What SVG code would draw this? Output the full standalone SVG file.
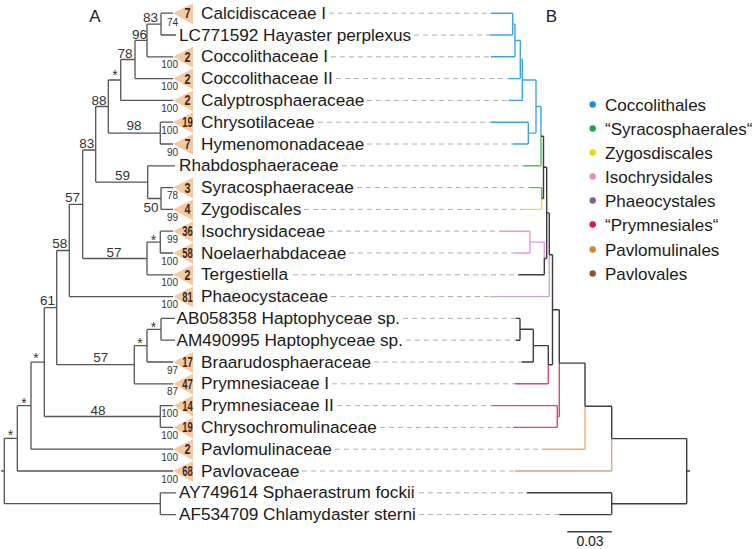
<svg xmlns="http://www.w3.org/2000/svg" width="755" height="549" viewBox="0 0 755 549">
<style>
text{font-family:"Liberation Sans",Arial,sans-serif}
.lbl{font-size:17.2px;fill:#1a1a1a}
.bs{font-size:13.5px;fill:#333;text-anchor:middle}
.st{font-size:14px;fill:#333;text-anchor:middle}
.sm{font-size:10px;fill:#333;text-anchor:end}
.tri{fill:#f5c9a3}
.cnt{font-size:14px;font-weight:bold;fill:#3b2a1e}
.br{stroke:#555;stroke-width:1.3;fill:none}
.dash{stroke:#b0b0b0;stroke-width:1;stroke-dasharray:5 4;fill:none}
.k{stroke:#3d3d3d;stroke-width:1.4;fill:none}
.bl{stroke:#3ea5e0;stroke-width:1.4;fill:none}
.gr{stroke:#4fbf5f;stroke-width:1.4;fill:none}
.ye{stroke:#e6df3a;stroke-width:1.4;fill:none}
.pk{stroke:#ee98d0;stroke-width:1.4;fill:none}
.pu{stroke:#c8a8d6;stroke-width:1.4;fill:none}
.rd{stroke:#e5436a;stroke-width:1.4;fill:none}
.or{stroke:#f0b070;stroke-width:1.4;fill:none}
.tn{stroke:#d4a88a;stroke-width:1.4;fill:none}
.leg{font-size:17px;fill:#1a1a1a}
</style>

<text x="95" y="21.7" font-size="17" text-anchor="middle" fill="#222">A</text>
<text x="551.3" y="21.7" font-size="17" text-anchor="middle" fill="#222">B</text>

<g id="connectors">
<g id="tree-a" class="br">
<path d="M161,13.2V35M161,13.2H173M161,35H176M147,24.1V56.8M147,24.1H161M147,56.8H173M135,40.45V78.6M135,40.45H147M135,78.6H173M120.7,59.5V100.4M120.7,59.5H135M120.7,100.4H173M108.3,80V133.1M108.3,80H120.7M160.3,122.2V144M160.3,122.2H173M160.3,144H173M108.3,133.1H160.3M95.7,106.5V182.1M95.7,106.5H108.3"/>
<path d="M147.7,165.8V198.5M147.7,165.8H175M161,187.6V209.4M161,187.6H173M161,209.4H173M147.7,198.5H161M95.7,182.1H147.7M82.7,150V258.5M82.7,150H95.7"/>
<path d="M160.3,231.2V253M160.3,231.2H173M160.3,253H173M147,242.1V274.8M147,242.1H160.3M147,274.8H173M82.7,258.5H147M69.3,204.3V296.6M69.3,204.3H82.7M69.3,296.6H173M56.7,250.5V364.7M56.7,250.5H69.3"/>
<path d="M161,318.4V340.2M161,318.4H175M161,340.2H175M147,329.3V362M147,329.3H161M147,362H173M134.3,345.6V383.8M134.3,345.6H147M134.3,383.8H173M56.7,364.7H134.3M44.3,307.7V416.5M44.3,307.7H56.7"/>
<path d="M160.3,405.6V427.4M160.3,405.6H173M160.3,427.4H173M44.3,416.5H160.3M31,362.1V449.2M31,362.1H44.3M31,449.2H173M17.3,405.7V471M17.3,405.7H31M17.3,471H173M4.3,438.3V503.7M4.3,438.3H17.3M160.3,492.8V514.6M160.3,492.8H176M160.3,514.6H176M4.3,503.7H160.3M1,471H4.3"/>
</g>
<g id="dashes" class="dash">
<path d="M329,13.2H490.7M414,35H490M331,56.8H490.7M336,78.6H508.3M367,100.4H508.3M318,122.2H490.7M367,144H512.7M342,165.8H523.3M357,187.6H530M304,209.4H523.3M328,231.2H500M349,253H515M293,274.8H518.3M331,296.6H490M403,318.4H516M406,340.2H516M374,362H521.7M332,383.8H515M337,405.6H491.7M380,427.4H513.3M335,449.2H541.7M302,471H515M419,492.8H526.7M419,514.6H559.3"/>
</g>
<g id="tree-b">
<path class="bl" d="M490.7,13.2H512.7M490,35H512.7M512.7,13.2V35M512.7,24.1H515M490.7,56.8H515M515,24.1V56.8M515,40.45H520.3M508.3,78.6H520.3M520.3,40.45V78.6M520.3,59.5H522.3M508.3,100.4H522.3M522.3,59.5V100.4M522.3,80H536M490.7,122.2H528.3M512.7,144H528.3M528.3,122.2V144M528.3,133.1H536M536,80V133.1M536,106.5H541M541,106.5V136.2"/>
<path class="gr" d="M541,136.2V165.8M523.3,165.8H541M530,187.6H541.7M541.7,187.6V198.5"/>
<path class="ye" d="M523.3,209.4H541.7M541.7,198.5V209.4"/>
<path class="k" d="M541,136.2H543.5M541.7,198.5H543.5M543.5,136.2V198.5M543.5,167.3H546.7"/>
<path class="pk" d="M500,231.2H530M515,253H530M530,231.2V253M530,242.1H544.3M544.3,242.1V258.5"/>
<path class="k" d="M518.3,274.8H544.3M544.3,258.5V274.8M544.3,258.5H546.7M546.7,167.3V258.5M546.7,212.9H549.3M549.3,212.9V254.7"/>
<path class="pu" d="M490,296.6H549.3M549.3,254.7V296.6"/>
<path class="k" d="M549.3,254.7H552.5M552.5,254.7V364.7M516,318.4H520M516,340.2H520M520,318.4V340.2M520,329.3H533.3M521.7,362H533.3M533.3,329.3V362M533.3,345.6H548.3M548.3,345.6V364.7"/>
<path class="rd" d="M515,383.8H548.3M548.3,364.7V383.8"/>
<path class="k" d="M548.3,364.7H552.5M552.5,309.7H559.3M559.3,309.7V363.1"/>
<path class="rd" d="M491.7,405.6H557.3M513.3,427.4H557.3M557.3,405.6V427.4M557.3,416.5H559.3M559.3,363.1V416.5"/>
<path class="k" d="M559.3,363.1H585M585,363.1V406.2"/>
<path class="or" d="M541.7,449.2H585M585,406.2V449.2"/>
<path class="k" d="M585,406.2H611.7M611.7,406.2V438.6"/>
<path class="tn" d="M515,471H611.7M611.7,438.6V471"/>
<path class="k" d="M611.7,438.6H686.7M686.7,438.6V503.7M526.7,492.8H611.7M559.3,514.6H611.7M611.7,492.8V514.6M611.7,503.7H686.7M686.7,471H690"/>
</g>
</g>

<g id="support">
<text class="bs" x="150.5" y="22">83</text>
<text class="bs" x="139.5" y="38.5">96</text>
<text class="bs" x="125" y="57.5">78</text>
<text class="st" x="115" y="80">*</text>
<text class="bs" x="99" y="105">88</text>
<text class="bs" x="134" y="130">98</text>
<text class="bs" x="86.7" y="148">83</text>
<text class="bs" x="122.5" y="180">59</text>
<text class="bs" x="151" y="211.5">50</text>
<text class="bs" x="72.5" y="201.5">57</text>
<text class="bs" x="114" y="256.5">57</text>
<text class="st" x="153.5" y="245">*</text>
<text class="bs" x="59.7" y="248">58</text>
<text class="bs" x="47.5" y="305">61</text>
<text class="st" x="153.5" y="332">*</text>
<text class="st" x="140" y="348">*</text>
<text class="bs" x="100.8" y="361.7">57</text>
<text class="bs" x="98" y="415">48</text>
<text class="st" x="36" y="363">*</text>
<text class="st" x="24" y="408">*</text>
<text class="st" x="10.5" y="440">*</text>
<text class="sm" x="178" y="26.2">74</text>
<text class="sm" x="178" y="68.3">100</text>
<text class="sm" x="178" y="90.1">100</text>
<text class="sm" x="178" y="111.9">100</text>
<text class="sm" x="178" y="133.7">100</text>
<text class="sm" x="178" y="155.5">90</text>
<text class="sm" x="178" y="199.1">78</text>
<text class="sm" x="178" y="220.9">99</text>
<text class="sm" x="178" y="242.7">99</text>
<text class="sm" x="178" y="264.5">100</text>
<text class="sm" x="178" y="286.3">100</text>
<text class="sm" x="178" y="308.1">100</text>
<text class="sm" x="178" y="373.5">97</text>
<text class="sm" x="178" y="395.3">87</text>
<text class="sm" x="178" y="417.1">100</text>
<text class="sm" x="178" y="438.9">100</text>
<text class="sm" x="178" y="460.7">100</text>
<text class="sm" x="178" y="482.5">100</text>
</g>

<g id="leaf-calcidiscaceae-i"><polygon class="tri" points="173,13.2 193,3.2 193,24.2"/><text class="cnt" x="184.5" y="18.2" textLength="6" lengthAdjust="spacingAndGlyphs">7</text><text class="lbl" x="201" y="18.7">Calcidiscaceae I</text></g>
<g id="leaf-lc771592"><text class="lbl" x="179" y="40.5">LC771592 Hayaster perplexus</text></g>
<g id="leaf-coccolithaceae-i"><polygon class="tri" points="173,56.8 193,46.8 193,67.8"/><text class="cnt" x="184.5" y="61.8" textLength="6" lengthAdjust="spacingAndGlyphs">2</text><text class="lbl" x="201" y="62.3">Coccolithaceae I</text></g>
<g id="leaf-coccolithaceae-ii"><polygon class="tri" points="173,78.6 193,68.6 193,89.6"/><text class="cnt" x="184.5" y="83.6" textLength="6" lengthAdjust="spacingAndGlyphs">2</text><text class="lbl" x="201" y="84.1">Coccolithaceae II</text></g>
<g id="leaf-calyptrosphaeraceae"><polygon class="tri" points="173,100.4 193,90.4 193,111.4"/><text class="cnt" x="184.5" y="105.4" textLength="6" lengthAdjust="spacingAndGlyphs">2</text><text class="lbl" x="201" y="105.9">Calyptrosphaeraceae</text></g>
<g id="leaf-chrysotilaceae"><polygon class="tri" points="173,122.2 193,112.2 193,133.2"/><text class="cnt" x="182.2" y="127.2" textLength="10.6" lengthAdjust="spacingAndGlyphs">19</text><text class="lbl" x="201" y="127.7">Chrysotilaceae</text></g>
<g id="leaf-hymenomonadaceae"><polygon class="tri" points="173,144 193,134 193,155"/><text class="cnt" x="184.5" y="149" textLength="6" lengthAdjust="spacingAndGlyphs">7</text><text class="lbl" x="201" y="149.5">Hymenomonadaceae</text></g>
<g id="leaf-rhabdosphaeraceae"><text class="lbl" x="179" y="171.3">Rhabdosphaeraceae</text></g>
<g id="leaf-syracosphaeraceae"><polygon class="tri" points="173,187.6 193,177.6 193,198.6"/><text class="cnt" x="184.5" y="192.6" textLength="6" lengthAdjust="spacingAndGlyphs">3</text><text class="lbl" x="201" y="193.1">Syracosphaeraceae</text></g>
<g id="leaf-zygodiscales"><polygon class="tri" points="173,209.4 193,199.4 193,220.4"/><text class="cnt" x="184.5" y="214.4" textLength="6" lengthAdjust="spacingAndGlyphs">4</text><text class="lbl" x="201" y="214.9">Zygodiscales</text></g>
<g id="leaf-isochrysidaceae"><polygon class="tri" points="173,231.2 193,221.2 193,242.2"/><text class="cnt" x="182.2" y="236.2" textLength="10.6" lengthAdjust="spacingAndGlyphs">36</text><text class="lbl" x="201" y="236.7">Isochrysidaceae</text></g>
<g id="leaf-noelaerhabdaceae"><polygon class="tri" points="173,253 193,243 193,264"/><text class="cnt" x="182.2" y="258" textLength="10.6" lengthAdjust="spacingAndGlyphs">58</text><text class="lbl" x="201" y="258.5">Noelaerhabdaceae</text></g>
<g id="leaf-tergestiella"><polygon class="tri" points="173,274.8 193,264.8 193,285.8"/><text class="cnt" x="184.5" y="279.8" textLength="6" lengthAdjust="spacingAndGlyphs">2</text><text class="lbl" x="201" y="280.3">Tergestiella</text></g>
<g id="leaf-phaeocystaceae"><polygon class="tri" points="173,296.6 193,286.6 193,307.6"/><text class="cnt" x="182.2" y="301.6" textLength="10.6" lengthAdjust="spacingAndGlyphs">81</text><text class="lbl" x="201" y="302.1">Phaeocystaceae</text></g>
<g id="leaf-ab058358"><text class="lbl" x="176.5" y="323.9">AB058358 Haptophyceae sp.</text></g>
<g id="leaf-am490995"><text class="lbl" x="176.5" y="345.7">AM490995 Haptophyceae sp.</text></g>
<g id="leaf-braarudosphaeraceae"><polygon class="tri" points="173,362 193,352 193,373"/><text class="cnt" x="182.2" y="367" textLength="10.6" lengthAdjust="spacingAndGlyphs">17</text><text class="lbl" x="201" y="367.5">Braarudosphaeraceae</text></g>
<g id="leaf-prymnesiaceae-i"><polygon class="tri" points="173,383.8 193,373.8 193,394.8"/><text class="cnt" x="182.2" y="388.8" textLength="10.6" lengthAdjust="spacingAndGlyphs">47</text><text class="lbl" x="201" y="389.3">Prymnesiaceae I</text></g>
<g id="leaf-prymnesiaceae-ii"><polygon class="tri" points="173,405.6 193,395.6 193,416.6"/><text class="cnt" x="182.2" y="410.6" textLength="10.6" lengthAdjust="spacingAndGlyphs">14</text><text class="lbl" x="201" y="411.1">Prymnesiaceae II</text></g>
<g id="leaf-chrysochromulinaceae"><polygon class="tri" points="173,427.4 193,417.4 193,438.4"/><text class="cnt" x="182.2" y="432.4" textLength="10.6" lengthAdjust="spacingAndGlyphs">19</text><text class="lbl" x="201" y="432.9">Chrysochromulinaceae</text></g>
<g id="leaf-pavlomulinaceae"><polygon class="tri" points="173,449.2 193,439.2 193,460.2"/><text class="cnt" x="184.5" y="454.2" textLength="6" lengthAdjust="spacingAndGlyphs">2</text><text class="lbl" x="201" y="454.7">Pavlomulinaceae</text></g>
<g id="leaf-pavlovaceae"><polygon class="tri" points="173,471 193,461 193,482"/><text class="cnt" x="182.2" y="476" textLength="10.6" lengthAdjust="spacingAndGlyphs">68</text><text class="lbl" x="201" y="476.5">Pavlovaceae</text></g>
<g id="leaf-ay749614"><text class="lbl" x="179" y="498.3">AY749614 Sphaerastrum fockii</text></g>
<g id="leaf-af534709"><text class="lbl" x="179" y="520.1">AF534709 Chlamydaster sterni</text></g>

<g id="legend">
<g id="leg-coccolithales"><circle cx="592.7" cy="104.5" r="3.2" fill="#1b8fd6"/><text class="leg" x="605" y="110.5">Coccolithales</text></g>
<g id="leg-syracosphaerales"><circle cx="592.7" cy="128.5" r="3.2" fill="#17a845"/><text class="leg" x="605" y="134.5">“Syracosphaerales“</text></g>
<g id="leg-zygosdiscales"><circle cx="592.7" cy="152.5" r="3.2" fill="#e3dc16"/><text class="leg" x="605" y="158.5">Zygosdiscales</text></g>
<g id="leg-isochrysidales"><circle cx="592.7" cy="176.5" r="3.2" fill="#e68bc6"/><text class="leg" x="605" y="182.5">Isochrysidales</text></g>
<g id="leg-phaeocystales"><circle cx="592.7" cy="200.5" r="3.2" fill="#7f6495"/><text class="leg" x="605" y="206.5">Phaeocystales</text></g>
<g id="leg-prymnesiales"><circle cx="592.7" cy="224.5" r="3.2" fill="#e0124a"/><text class="leg" x="605" y="230.5">“Prymnesiales“</text></g>
<g id="leg-pavlomulinales"><circle cx="592.7" cy="249.5" r="3.2" fill="#d9822a"/><text class="leg" x="605" y="255.5">Pavlomulinales</text></g>
<g id="leg-pavlovales"><circle cx="592.7" cy="273.5" r="3.2" fill="#95522a"/><text class="leg" x="605" y="279.5">Pavlovales</text></g>
</g>

<g id="scale-bar">
<path class="k" d="M567.3,531.7H611.7"/>
<text x="590" y="546" font-size="14" text-anchor="middle" fill="#222">0.03</text>
</g>
</svg>
